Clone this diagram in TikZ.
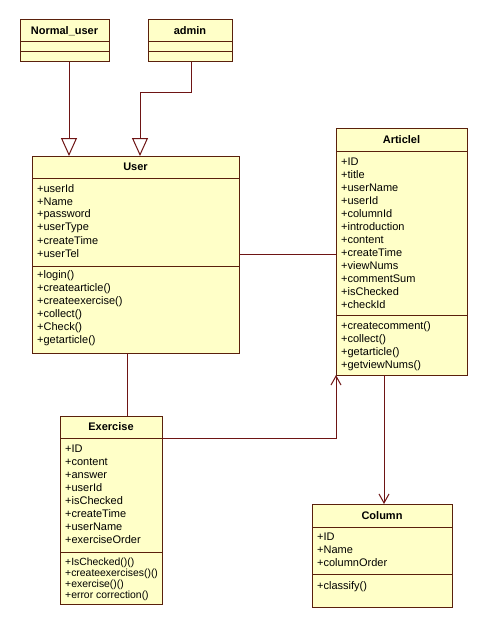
\documentclass[tikz,border=0pt]{standalone}
\usepackage{fontspec}
\setmainfont{Liberation Sans}
\usetikzlibrary{arrows.meta}
\definecolor{boxfill}{HTML}{FFFFC8}
\definecolor{boxline}{HTML}{5A200C}
\definecolor{conn}{HTML}{6E1414}
\tikzset{
  cls/.style={draw=boxline, fill=boxfill, line width=1pt, inner sep=0pt, outer sep=0pt, anchor=north west},
  sep/.style={draw=boxline, line width=1pt},
  ttl/.style={font=\fontsize{11}{13}\selectfont\bfseries, inner sep=0pt},
  txt/.style={font=\fontsize{11}{13}\selectfont, inner sep=0pt, anchor=west},
  txts/.style={font=\fontsize{10.4}{12}\selectfont, inner sep=0pt, anchor=west},
  wire/.style={draw=conn, line width=1pt},
  gen/.style={wire, -{Triangle[open, length=18pt, width=16pt, fill=white]}},
  nav/.style={wire, -{Straight Barb[length=9pt, width=10pt]}},
}
\begin{document}
\begin{tikzpicture}[x=1pt, y=-1pt]
\useasboundingbox (0,0) rectangle (488,634);
\fill[white] (0,0) rectangle (488,634);

% Normal_user
\node[cls, minimum width=89pt, minimum height=42pt] (nu) at (20,20) {};
\draw[sep] (20,42) -- (109,42) (20,52) -- (109,52);
\node[ttl] (nut) at (64.5,31) {Normal\_user};

% admin
\node[cls, minimum width=84pt, minimum height=42pt] (ad) at (148,20) {};
\draw[sep] (148,42) -- (232,42) (148,52) -- (232,52);
\node[ttl] (adt) at (190,31) {admin};

% User
\node[cls, minimum width=207pt, minimum height=197pt] (user) at (32,156) {};
\draw[sep] (32,178) -- (239,178) (32,266) -- (239,266);
\node[ttl] (usert) at (135.5,167) {User};
\foreach \t [count=\i from 0] in {+userId,+Name,+password,+userType,+createTime,+userTel}
  \node[txt] (ua\i) at (37,{189+13*\i}) {\t};
\foreach \t [count=\i from 0] in {+login(),+createarticle(),+createexercise(),+collect(),+Check(),+getarticle()}
  \node[txt] (um\i) at (37,{276+13*\i}) {\t};

% Articlel
\node[cls, minimum width=131pt, minimum height=247pt] (art) at (336,128) {};
\draw[sep] (336,151) -- (467,151) (336,315) -- (467,315);
\node[ttl] (artt) at (401.5,139.5) {Articlel};
\foreach \t [count=\i from 0] in {+ID,+title,+userName,+userId,+columnId,+introduction,+content,+createTime,+viewNums,+commentSum,+isChecked,+checkId}
  \node[txt] (aa\i) at (341,{162+13*\i}) {\t};
\foreach \t [count=\i from 0] in {+createcomment(),+collect(),+getarticle(),+getviewNums()}
  \node[txt] (am\i) at (341,{327+13*\i}) {\t};

% Exercise
\node[cls, minimum width=102pt, minimum height=188pt] (ex) at (60,416) {};
\draw[sep] (60,438) -- (162,438) (60,552) -- (162,552);
\node[ttl] (ext) at (111,427) {Exercise};
\foreach \t [count=\i from 0] in {+ID,+content,+answer,+userId,+isChecked,+createTime,+userName,+exerciseOrder}
  \node[txt] (ea\i) at (65,{449+13*\i}) {\t};
\foreach \t [count=\i from 0] in {+IsChecked()(),+createexercises()(),+exercise()(),+error correction()}
  \node[txts] (em\i) at (65,{563+11*\i}) {\t};

% Column
\node[cls, minimum width=140pt, minimum height=103pt] (col) at (312,504) {};
\draw[sep] (312,527) -- (452,527) (312,574) -- (452,574);
\node[ttl] (colt) at (382,515.5) {Column};
\foreach \t [count=\i from 0] in {+ID,+Name,+columnOrder}
  \node[txt] (ca\i) at (317,{537+13*\i}) {\t};
\node[txt] (cm0) at (317,587) {+classify()};

% connectors
\draw[gen] ([xshift=49pt]nu.south west) -- ([xshift=37pt]user.north west);
\draw[gen] ([xshift=43pt]ad.south west) -- ++(0,30) -| ([xshift=108pt]user.north west);
\draw[wire] (user.east |- 0,254) -- (art.west |- 0,254);
\draw[wire] ([xshift=95pt]user.south west) -- ([xshift=67pt]ex.north west);
\draw[nav] (ex.east |- 0,438) -| (art.south west);
\draw[nav] (art.south -| 384,0) -- (col.north -| 384,0);
\end{tikzpicture}
\end{document}
